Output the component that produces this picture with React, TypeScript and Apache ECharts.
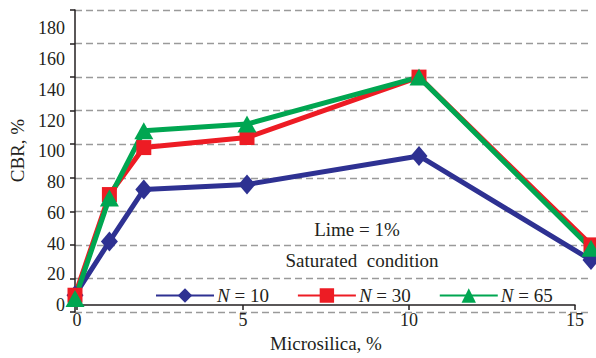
import React, { useEffect, useRef } from "react";
import * as echarts from "echarts";

const xValues = [0, 1, 2, 5, 10, 15];
const seriesNames = ["N = 10", "N = 30", "N = 65"];
const n10 = [10, 42, 73, 76, 93, 31];
const n30 = [10, 70, 98, 104, 140, 40];
const n65 = [8, 68, 108, 112, 140, 38];
const annotations = ["Lime = 1%", "Saturated  condition"];
const xTitle = "Microsilica, %";
const yTitle = "CBR, %";

const FONT = "Liberation Serif, serif";
const INK = "#231f20";

export default function App() {
  const ref = useRef<HTMLDivElement>(null);
  useEffect(() => {
    if (!ref.current) return;
    const chart = echarts.init(ref.current, null, { renderer: "svg" });
    const mk = (vals: number[]) => xValues.map((x, i) => [x, vals[i]]);
    const axisLine = { show: true, lineStyle: { color: INK, width: 1.5 } };
    const tick = { show: true, length: 5, lineStyle: { color: INK, width: 1.5 } };
    const label = { fontSize: 18, color: INK, fontFamily: FONT };
    chart.setOption({
      animation: false,
      backgroundColor: "#ffffff",
      grid: [
        { left: 75, right: 5, top: 10, bottom: 46 },
        { left: 75, right: 21, top: 10, bottom: 46 },
      ],
      xAxis: [
        { gridIndex: 0, type: "value", min: 0, max: 15, show: false },
        {
          gridIndex: 1,
          type: "value",
          min: 0,
          max: 15,
          interval: 5,
          axisLine,
          axisTick: tick,
          splitLine: { show: false },
          axisLabel: { ...label, margin: 6 },
          name: xTitle,
          nameLocation: "middle",
          nameGap: 25,
          nameTextStyle: { ...label, fontSize: 19 },
        },
      ],
      yAxis: [
        {
          gridIndex: 0,
          type: "value",
          min: 0,
          max: 180,
          interval: 20,
          axisLine,
          axisTick: tick,
          axisLabel: { show: false },
          splitLine: {
            show: true,
            lineStyle: { color: "#9a9a9a", width: 1.3, type: [7, 4] },
          },
        },
        {
          gridIndex: 1,
          type: "value",
          min: 0,
          max: 192,
          interval: 20,
          axisLine: { show: false },
          axisTick: { show: false },
          splitLine: { show: false },
          axisLabel: {
            ...label,
            margin: 12,
            showMaxLabel: false,
            formatter: (v: number) => (v % 20 === 0 ? String(v) : ""),
          },
          name: yTitle,
          nameLocation: "middle",
          nameGap: 50,
          nameRotate: 90,
          nameTextStyle: { ...label, fontSize: 19, padding: [0, 0, 0, 14] },
        },
      ],
      legend: {
        data: seriesNames,
        left: 155,
        top: 286,
        padding: 0,
        itemWidth: 58,
        itemHeight: 18,
        itemGap: 28,
        formatter: (name: string) => `{i|N}{t|${name.slice(1)}}`,
        textStyle: {
          color: INK,
          fontFamily: FONT,
          fontSize: 19,
          padding: [0, 0, 0, -2],
          rich: {
            i: { fontStyle: "italic", fontSize: 19, fontFamily: FONT, color: INK },
            t: { fontSize: 19, fontFamily: FONT, color: INK },
          },
        },
      },
      graphic: [
        {
          type: "text",
          x: 357,
          y: 229,
          style: {
            text: annotations[0],
            font: `19px ${FONT}`,
            fill: INK,
            align: "center",
            verticalAlign: "middle",
          },
        },
        {
          type: "text",
          x: 362,
          y: 260,
          style: {
            text: annotations[1],
            font: `19px ${FONT}`,
            fill: INK,
            align: "center",
            verticalAlign: "middle",
          },
        },
      ],
      series: [
        {
          name: seriesNames[0],
          type: "line",
          xAxisIndex: 0,
          yAxisIndex: 0,
          data: mk(n10),
          symbol: "diamond",
          symbolSize: [17, 20],
          color: "#2e3192",
          lineStyle: { width: 5, color: "#2e3192" },
          itemStyle: { color: "#2e3192" },
        },
        {
          name: seriesNames[1],
          type: "line",
          xAxisIndex: 0,
          yAxisIndex: 0,
          data: mk(n30),
          symbol: "rect",
          symbolSize: 15,
          color: "#ed1c24",
          lineStyle: { width: 5, color: "#ed1c24" },
          itemStyle: { color: "#ed1c24" },
        },
        {
          name: seriesNames[2],
          type: "line",
          xAxisIndex: 0,
          yAxisIndex: 0,
          data: mk(n65),
          symbol: "triangle",
          symbolSize: [19, 17],
          color: "#00a651",
          lineStyle: { width: 5, color: "#00a651" },
          itemStyle: { color: "#00a651" },
        },
      ],
    });
    return () => chart.dispose();
  }, []);
  return (
    <div
      ref={ref}
      style={{ position: "absolute", left: 0, top: 0, width: 596, height: 358 }}
    />
  );
}
